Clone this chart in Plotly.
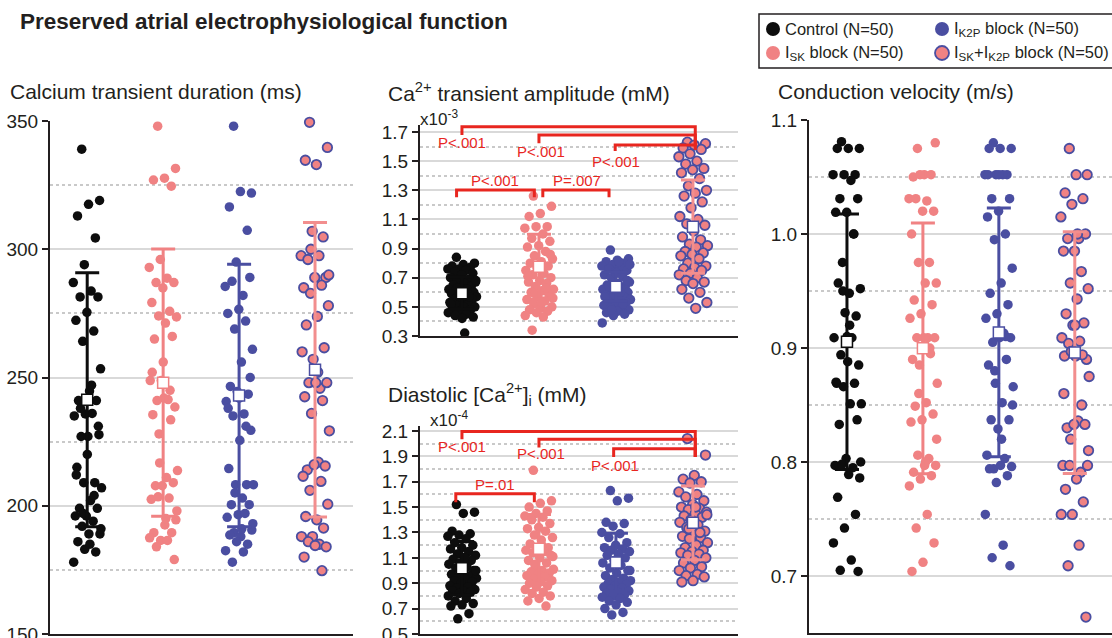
import plotly.graph_objects as go

# ---------------- data ----------------
GROUP_NAMES = ["Control (N=50)", "I<sub>SK</sub> block (N=50)",
               "I<sub>K2P</sub> block (N=50)", "I<sub>SK</sub>+I<sub>K2P</sub> block (N=50)"]

# Calcium transient duration (ms)
ctd_control = [339, 319, 317.5, 313, 304.4, 294, 287, 283.7, 281.4, 281.4, 275.4, 272.3, 268.1, 264.1,
               253.4, 244.7, 241, 241, 235.8, 235, 236, 227, 227.7, 227, 215, 209, 209, 207, 202, 199,
               199, 196, 196, 194, 192, 189, 189, 186, 182, 183, 178, 247, 238, 231, 220, 212, 204,
               197, 191, 185]
ctd_isk = [348, 331.5, 327.7, 327, 324.6, 296, 292.9, 288.7, 287, 287, 284.9, 279.2, 275.8, 274, 273.6,
           271.2, 265, 266, 248.8, 248.8, 241.4, 241, 238.5, 242, 235.5, 233.5, 216.7, 213.7, 211,
           207.8, 209, 207.8, 202.5, 203, 203.5, 194.5, 192.5, 189.5, 189.5, 186.5, 187.5, 186.5, 184,
           179, 256, 252, 245, 228, 198, 195]
ctd_ik2p = [348, 321.9, 322.5, 316.5, 307.4, 295, 285.5, 282, 287.5, 289, 276.6, 275, 272, 268.9, 261,
            256, 246.5, 243.5, 244.5, 240.6, 235.8, 235, 229.4, 225.5, 214.5, 208.2, 208.2, 208.2, 203,
            200.4, 200.4, 196.5, 195.5, 197, 189.5, 190.5, 188, 188.6, 185, 186, 182.5, 182, 178, 250,
            242, 238, 231, 205, 193, 191]
ctd_combo = [349.5, 339.7, 333, 334.7, 304.8, 307, 297.5, 297.5, 296, 289, 289, 285, 286, 282.8, 278,
             273.8, 270.5, 261.6, 257.1, 260, 245.8, 248, 248, 248, 242.5, 241, 236, 229.2, 217, 214,
             215.5, 216, 211.5, 209.5, 206, 200.6, 194.5, 195.8, 191.3, 188, 188, 185, 186, 184, 184.5,
             180, 174.7, 300, 290, 252]
ctd_mean = [241.3, 248.0, 243.0, 253.0]
ctd_sd = [49.5, 52.1, 51.2, 57.4]

# Ca2+ transient amplitude (x10^-3 mM)
amp_control = [0.84, 0.80, 0.79, 0.78, 0.77, 0.76, 0.76, 0.75, 0.74, 0.73, 0.72, 0.70, 0.69, 0.68, 0.67,
               0.66, 0.65, 0.64, 0.63, 0.62, 0.62, 0.61, 0.60, 0.60, 0.59, 0.58, 0.58, 0.57, 0.56, 0.55,
               0.55, 0.54, 0.53, 0.52, 0.51, 0.50, 0.50, 0.49, 0.48, 0.47, 0.46, 0.45, 0.44, 0.43, 0.42,
               0.52, 0.57, 0.63, 0.68, 0.32]
amp_isk = [1.26, 1.19, 1.14, 1.12, 1.05, 1.05, 1.04, 1.00, 0.97, 0.95, 0.92, 0.91, 0.88, 0.85, 0.83,
           0.81, 0.80, 0.78, 0.77, 0.75, 0.73, 0.72, 0.70, 0.68, 0.67, 0.66, 0.64, 0.62, 0.61, 0.60,
           0.58, 0.57, 0.55, 0.54, 0.52, 0.50, 0.49, 0.48, 0.47, 0.46, 0.44, 0.43, 0.34, 0.86, 0.79,
           0.71, 0.63, 0.59, 0.56, 0.53]
amp_ik2p = [0.89, 0.83, 0.82, 0.81, 0.80, 0.79, 0.78, 0.77, 0.76, 0.75, 0.74, 0.72, 0.71, 0.70, 0.67,
            0.66, 0.65, 0.64, 0.63, 0.62, 0.62, 0.61, 0.60, 0.59, 0.58, 0.57, 0.56, 0.55, 0.55, 0.54,
            0.53, 0.52, 0.51, 0.50, 0.49, 0.48, 0.47, 0.46, 0.45, 0.44, 0.39, 0.60, 0.64, 0.68, 0.73,
            0.57, 0.52, 0.48, 0.79, 0.81]
amp_combo = [1.63, 1.62, 1.61, 1.59, 1.58, 1.55, 1.53, 1.50, 1.48, 1.45, 1.44, 1.42, 1.38, 1.33, 1.30,
             1.28, 1.26, 1.22, 1.18, 1.12, 1.10, 1.07, 1.06, 1.02, 0.98, 0.96, 0.93, 0.92, 0.91, 0.88,
             0.87, 0.86, 0.85, 0.83, 0.80, 0.78, 0.77, 0.76, 0.75, 0.73, 0.72, 0.70, 0.68, 0.67, 0.66,
             0.62, 0.60, 0.56, 0.53, 0.49]
amp_mean = [0.593, 0.776, 0.638, 1.05]
amp_sd = [0.11, 0.222, 0.10, 0.32]

# Diastolic [Ca2+]i (x10^-4 mM)
dia_control = [1.52, 1.46, 1.45, 1.31, 1.29, 1.28, 1.27, 1.25, 1.22, 1.20, 1.18, 1.17, 1.15, 1.13, 1.12,
               1.10, 1.09, 1.08, 1.06, 1.05, 1.03, 1.02, 1.00, 0.99, 0.97, 0.96, 0.95, 0.94, 0.93, 0.92,
               0.91, 0.90, 0.88, 0.87, 0.86, 0.85, 0.84, 0.84, 0.83, 0.82, 0.80, 0.78, 0.76, 0.74, 0.73,
               0.72, 0.66, 0.62, 1.00, 1.10]
dia_isk = [1.79, 1.55, 1.53, 1.50, 1.47, 1.45, 1.43, 1.42, 1.40, 1.37, 1.34, 1.33, 1.31, 1.28, 1.26,
           1.24, 1.21, 1.18, 1.17, 1.16, 1.15, 1.14, 1.12, 1.10, 1.08, 1.06, 1.03, 1.01, 1.00, 0.99,
           0.98, 0.97, 0.96, 0.95, 0.93, 0.92, 0.91, 0.90, 0.88, 0.87, 0.85, 0.83, 0.82, 0.80, 0.78,
           0.76, 0.72, 1.05, 1.11, 1.20]
dia_ik2p = [1.63, 1.57, 1.55, 1.38, 1.37, 1.35, 1.30, 1.29, 1.26, 1.22, 1.20, 1.18, 1.17, 1.16, 1.15,
            1.13, 1.12, 1.10, 1.08, 1.06, 1.04, 1.02, 1.00, 0.98, 0.96, 0.94, 0.93, 0.92, 0.91, 0.90,
            0.89, 0.88, 0.87, 0.86, 0.85, 0.84, 0.83, 0.82, 0.81, 0.80, 0.79, 0.78, 0.76, 0.75, 0.73,
            0.70, 0.67, 0.65, 1.00, 1.10]
dia_combo = [2.04, 1.91, 1.75, 1.72, 1.70, 1.69, 1.62, 1.60, 1.58, 1.55, 1.52, 1.50, 1.49, 1.48, 1.46,
             1.45, 1.43, 1.42, 1.40, 1.38, 1.36, 1.34, 1.31, 1.28, 1.27, 1.26, 1.25, 1.22, 1.20, 1.18,
             1.16, 1.15, 1.14, 1.13, 1.12, 1.10, 1.08, 1.06, 1.03, 1.02, 1.00, 0.97, 0.96, 0.95, 0.92,
             0.91, 1.30, 1.33, 1.44, 1.50]
dia_mean = [1.018, 1.172, 1.064, 1.376]
dia_sd = [0.21, 0.27, 0.23, 0.29]

# Conduction velocity (m/s)
cv_control = [1.081, 1.075, 1.075, 1.075, 1.052, 1.052, 1.052, 1.047, 1.031, 1.031, 1.019, 1.019, 1.0,
              0.975, 0.952, 0.948, 0.957, 0.928, 0.931, 0.909, 0.909, 0.894, 0.885, 0.888, 0.869, 0.869,
              0.866, 0.851, 0.851, 0.833, 0.837, 0.803, 0.797, 0.795, 0.798, 0.786, 0.789, 0.769, 0.754,
              0.742, 0.729, 0.714, 0.705, 0.704, 0.91, 0.87, 1.0, 0.95, 0.80, 0.92]
cv_isk = [1.075, 1.08, 1.052, 1.05, 1.052, 1.052, 1.031, 1.029, 1.031, 1.02, 1.02, 1.0, 0.975, 0.975,
          0.957, 0.957, 0.942, 0.938, 0.93, 0.926, 0.909, 0.909, 0.909, 0.909, 0.89, 0.895, 0.885,
          0.869, 0.852, 0.849, 0.842, 0.837, 0.835, 0.803, 0.806, 0.797, 0.797, 0.791, 0.788, 0.785,
          0.779, 0.754, 0.742, 0.729, 0.712, 0.704, 0.90, 0.86, 0.82, 0.80]
cv_ik2p = [1.08, 1.075, 1.075, 1.075, 1.052, 1.052, 1.052, 1.052, 1.031, 1.031, 1.02, 1.015, 1.0, 0.995,
           0.97, 0.957, 0.948, 0.938, 0.93, 0.926, 0.913, 0.905, 0.909, 0.909, 0.885, 0.89, 0.869, 0.866,
           0.852, 0.837, 0.837, 0.829, 0.806, 0.803, 0.794, 0.796, 0.797, 0.794, 0.788, 0.782, 0.754,
           0.727, 0.716, 0.709, 1.052, 1.052, 0.91, 0.88, 0.85, 0.82]
cv_combo = [1.075, 1.052, 1.052, 1.036, 1.031, 1.026, 1.015, 0.996, 0.996, 1.0, 0.985, 0.985, 0.967,
            0.957, 0.952, 0.943, 0.93, 0.922, 0.92, 0.909, 0.906, 0.904, 0.89, 0.893, 0.893, 0.894,
            0.897, 0.875, 0.836, 0.83, 0.833, 0.833, 0.797, 0.791, 0.797, 0.797, 0.785, 0.776, 0.765,
            0.754, 0.754, 0.727, 0.709, 0.664, 0.92, 0.86, 0.85, 0.82, 0.81, 1.0]
cv_mean = [0.9055, 0.8997, 0.9137, 0.896]
cv_sd = [0.112, 0.11, 0.109, 0.106]

# significance labels: (group a, group b, label)
amp_pvals = [(0, 3, "P<.001"), (1, 3, "P<.001"), (2, 3, "P<.001"), (0, 1, "P<.001"), (1, 2, "P=.007")]
dia_pvals = [(0, 3, "P<.001"), (1, 3, "P<.001"), (2, 3, "P<.001"), (0, 1, "P=.01")]

# ---------------- styles ----------------
FONT = "Liberation Sans, Arial, Helvetica, sans-serif"
INK = "#231f20"
BLACK = "#0d0d0d"
PINK = "#F08283"
BLUE = "#4A4EA1"
RED = "#E8261F"
FILL = [BLACK, PINK, BLUE, PINK]
EDGE = [BLACK, PINK, BLUE, BLUE]
EDGEW = [0, 0, 0, 1.8]
BARC = [BLACK, PINK, BLUE, "#F28E8E"]
MEANEDGE = [BLACK, PINK, BLUE, BLUE]

W, H = 1112, 638


def px_x(p):
    return p / W


def px_y(p):
    return 1 - p / H


def jitter(n, spread=0.19):
    return [((i * 0.6180339887 + 0.31) % 1.0 - 0.5) * 2 * spread for i in range(n)]


fig = go.Figure()

panels = [
    ("", [ctd_control, ctd_isk, ctd_ik2p, ctd_combo], ctd_mean, ctd_sd),
    ("2", [amp_control, amp_isk, amp_ik2p, amp_combo], amp_mean, amp_sd),
    ("3", [dia_control, dia_isk, dia_ik2p, dia_combo], dia_mean, dia_sd),
    ("4", [cv_control, cv_isk, cv_ik2p, cv_combo], cv_mean, cv_sd),
]

for sfx, groups, means, sds in panels:
    for g, vals in enumerate(groups):
        jit = jitter(len(vals))
        fig.add_trace(go.Scatter(
            x=[g + j for j in jit], y=vals, mode="markers", xaxis="x" + sfx, yaxis="y" + sfx,
            cliponaxis=False, showlegend=False, hoverinfo="y",
            marker=dict(size=9.5, color=FILL[g], line=dict(color=EDGE[g], width=EDGEW[g]))))
    for g in range(4):
        fig.add_trace(go.Scatter(
            x=[g], y=[means[g]], mode="markers", xaxis="x" + sfx, yaxis="y" + sfx,
            cliponaxis=False, showlegend=False,
            error_y=dict(type="data", array=[sds[g]], color=BARC[g], thickness=3, width=12),
            marker=dict(symbol="square", size=11, color="white",
                        line=dict(color=MEANEDGE[g], width=1.5))))

# ---------------- axes ----------------
def yaxis(rng, dtick, tick0, mdtick, mtick0, fmt=None):
    d = dict(range=rng, dtick=dtick, tick0=tick0, tickmode="linear", automargin=False,
             ticklabeloverflow="allow",
             showline=True, linecolor=INK, linewidth=2, ticks="outside", ticklen=6, tickwidth=2,
             tickcolor=INK, tickfont=dict(size=19, color=INK, family=FONT),
             showgrid=True, gridcolor="#d9d9d9", gridwidth=2, zeroline=False, fixedrange=True,
             minor=dict(dtick=mdtick, tick0=mtick0, showgrid=True, griddash="dot",
                        gridcolor="#c9c9c9", gridwidth=1.5, ticks=""))
    if fmt:
        d["tickformat"] = fmt
    return d


def xaxis(domain, rng, anchor):
    return dict(domain=domain, range=rng, anchor=anchor, showline=True, linecolor=INK, linewidth=2,
                automargin=False, showticklabels=False, ticks="", showgrid=False, zeroline=False,
                fixedrange=True)


fig.update_layout(
    width=W, height=H, margin=dict(l=0, r=0, t=0, b=0, pad=0), autosize=False,
    paper_bgcolor="white", plot_bgcolor="white", showlegend=False,
    font=dict(family=FONT, color=INK),
    xaxis=xaxis([px_x(50), px_x(353)], [-0.49, 3.5], "y"),
    yaxis=dict(domain=[px_y(634), px_y(121)], anchor="x", **yaxis([150, 350], 50, 150, 25, 150)),
    xaxis2=xaxis([px_x(420), px_x(738)], [-0.545, 3.585], "y2"),
    yaxis2=dict(domain=[px_y(336), px_y(124.7)], anchor="x2",
                **yaxis([0.3, 1.75], 0.2, 0.3, 0.1, 0.3, ".1f")),
    xaxis3=xaxis([px_x(420), px_x(738)], [-0.545, 3.585], "y3"),
    yaxis3=dict(domain=[px_y(634), px_y(425.9)], anchor="x3",
                **yaxis([0.5, 2.14], 0.2, 0.5, 0.1, 0.5, ".1f")),
    xaxis4=xaxis([px_x(809), 1.0], [-0.5, 3.49], "y4"),
    yaxis4=dict(domain=[px_y(633), px_y(120)], anchor="x4",
                **yaxis([0.65, 1.1], 0.1, 0.7, 0.05, 0.65, ".1f")),
)

# ---------------- significance brackets ----------------
def bracket(sfx, xa, xb, y, ya, yb):
    fig.add_trace(go.Scatter(
        x=[xa, xa, xb, xb], y=[ya, y, y, yb], mode="lines", xaxis="x" + sfx, yaxis="y" + sfx,
        line=dict(color=RED, width=3), showlegend=False, hoverinfo="skip"))


# amplitude panel brackets (y levels in axis units)
amp_geo = [(-0.0, 3.03, 1.736, 1.68, 1.60), (1.0, 3.03, 1.68, 1.622, 1.60), (1.99, 3.03, 1.61, 1.57, 1.576),
           (-0.07, 0.94, 1.302, 1.252, 1.252), (1.05, 1.91, 1.302, 1.252, 1.252)]
amp_lab = [(0.0, 1.625), (1.03, 1.563), (2.0, 1.50), (0.43, 1.37), (1.49, 1.37)]
for (a, b, lab), (xa, xb, y, ya, yb), (lx, ly) in zip(amp_pvals, amp_geo, amp_lab):
    bracket("2", xa, xb, y, ya, yb)
    fig.add_annotation(x=lx, y=ly, xref="x2", yref="y2", text=lab, showarrow=False,
                       font=dict(size=15, color=RED, family=FONT))

dia_geo = [(0.0, 3.03, 2.095, 2.035, 1.894), (1.0, 3.03, 2.035, 1.97, 1.894),
           (1.97, 3.03, 1.959, 1.894, 1.894), (-0.08, 0.94, 1.606, 1.538, 1.538)]
dia_lab = [(0.0, 1.977), (1.02, 1.92), (1.99, 1.828), (0.43, 1.676)]
for (a, b, lab), (xa, xb, y, ya, yb), (lx, ly) in zip(dia_pvals, dia_geo, dia_lab):
    bracket("3", xa, xb, y, ya, yb)
    fig.add_annotation(x=lx, y=ly, xref="x3", yref="y3", text=lab, showarrow=False,
                       font=dict(size=15, color=RED, family=FONT))

# ---------------- titles ----------------
def text(x, y, s, size=18, bold=False, color=INK):
    fig.add_annotation(x=px_x(x), y=px_y(y), xref="paper", yref="paper", xanchor="left",
                       yanchor="middle", showarrow=False, text=("<b>%s</b>" % s) if bold else s,
                       font=dict(size=size, color=color, family=FONT))


text(18, 22, "Preserved atrial electrophysiological function", size=22.5, bold=True)
text(8, 92, "Calcium transient duration (ms)", size=21)
text(386, 92, "Ca<sup>2+</sup> transient amplitude (mM)", size=21)
text(386, 394, "Diastolic [Ca<sup>2+</sup>]<sub>i</sub> (mM)", size=21)
text(776, 92, "Conduction velocity (m/s)", size=21)
text(418, 118, "x10<sup>-3</sup>", size=17)
text(428, 419, "x10<sup>-4</sup>", size=17)

# ---------------- legend box ----------------
fig.add_shape(type="rect", xref="paper", yref="paper", x0=px_x(759), x1=1.02, y0=px_y(68), y1=px_y(14),
              line=dict(color=INK, width=1.5), fillcolor="white", layer="above")
leg_pos = [(773, 29), (773, 53), (942, 29), (942, 53)]
for g, (lx, ly) in enumerate(leg_pos):
    fig.add_shape(type="circle", xref="paper", yref="paper", xsizemode="pixel", ysizemode="pixel",
                  xanchor=px_x(lx), yanchor=px_y(ly), x0=-7, x1=7, y0=-7, y1=7,
                  fillcolor=FILL[g], line=dict(color=EDGE[g], width=max(EDGEW[g], 0.01)), layer="above")
    text(lx + 10, ly, GROUP_NAMES[g], size=16.5)

fig.write_html("out.html", config={"displayModeBar": False, "responsive": False},
               post_script="document.body.style.margin='0';document.body.style.overflow='hidden';")
